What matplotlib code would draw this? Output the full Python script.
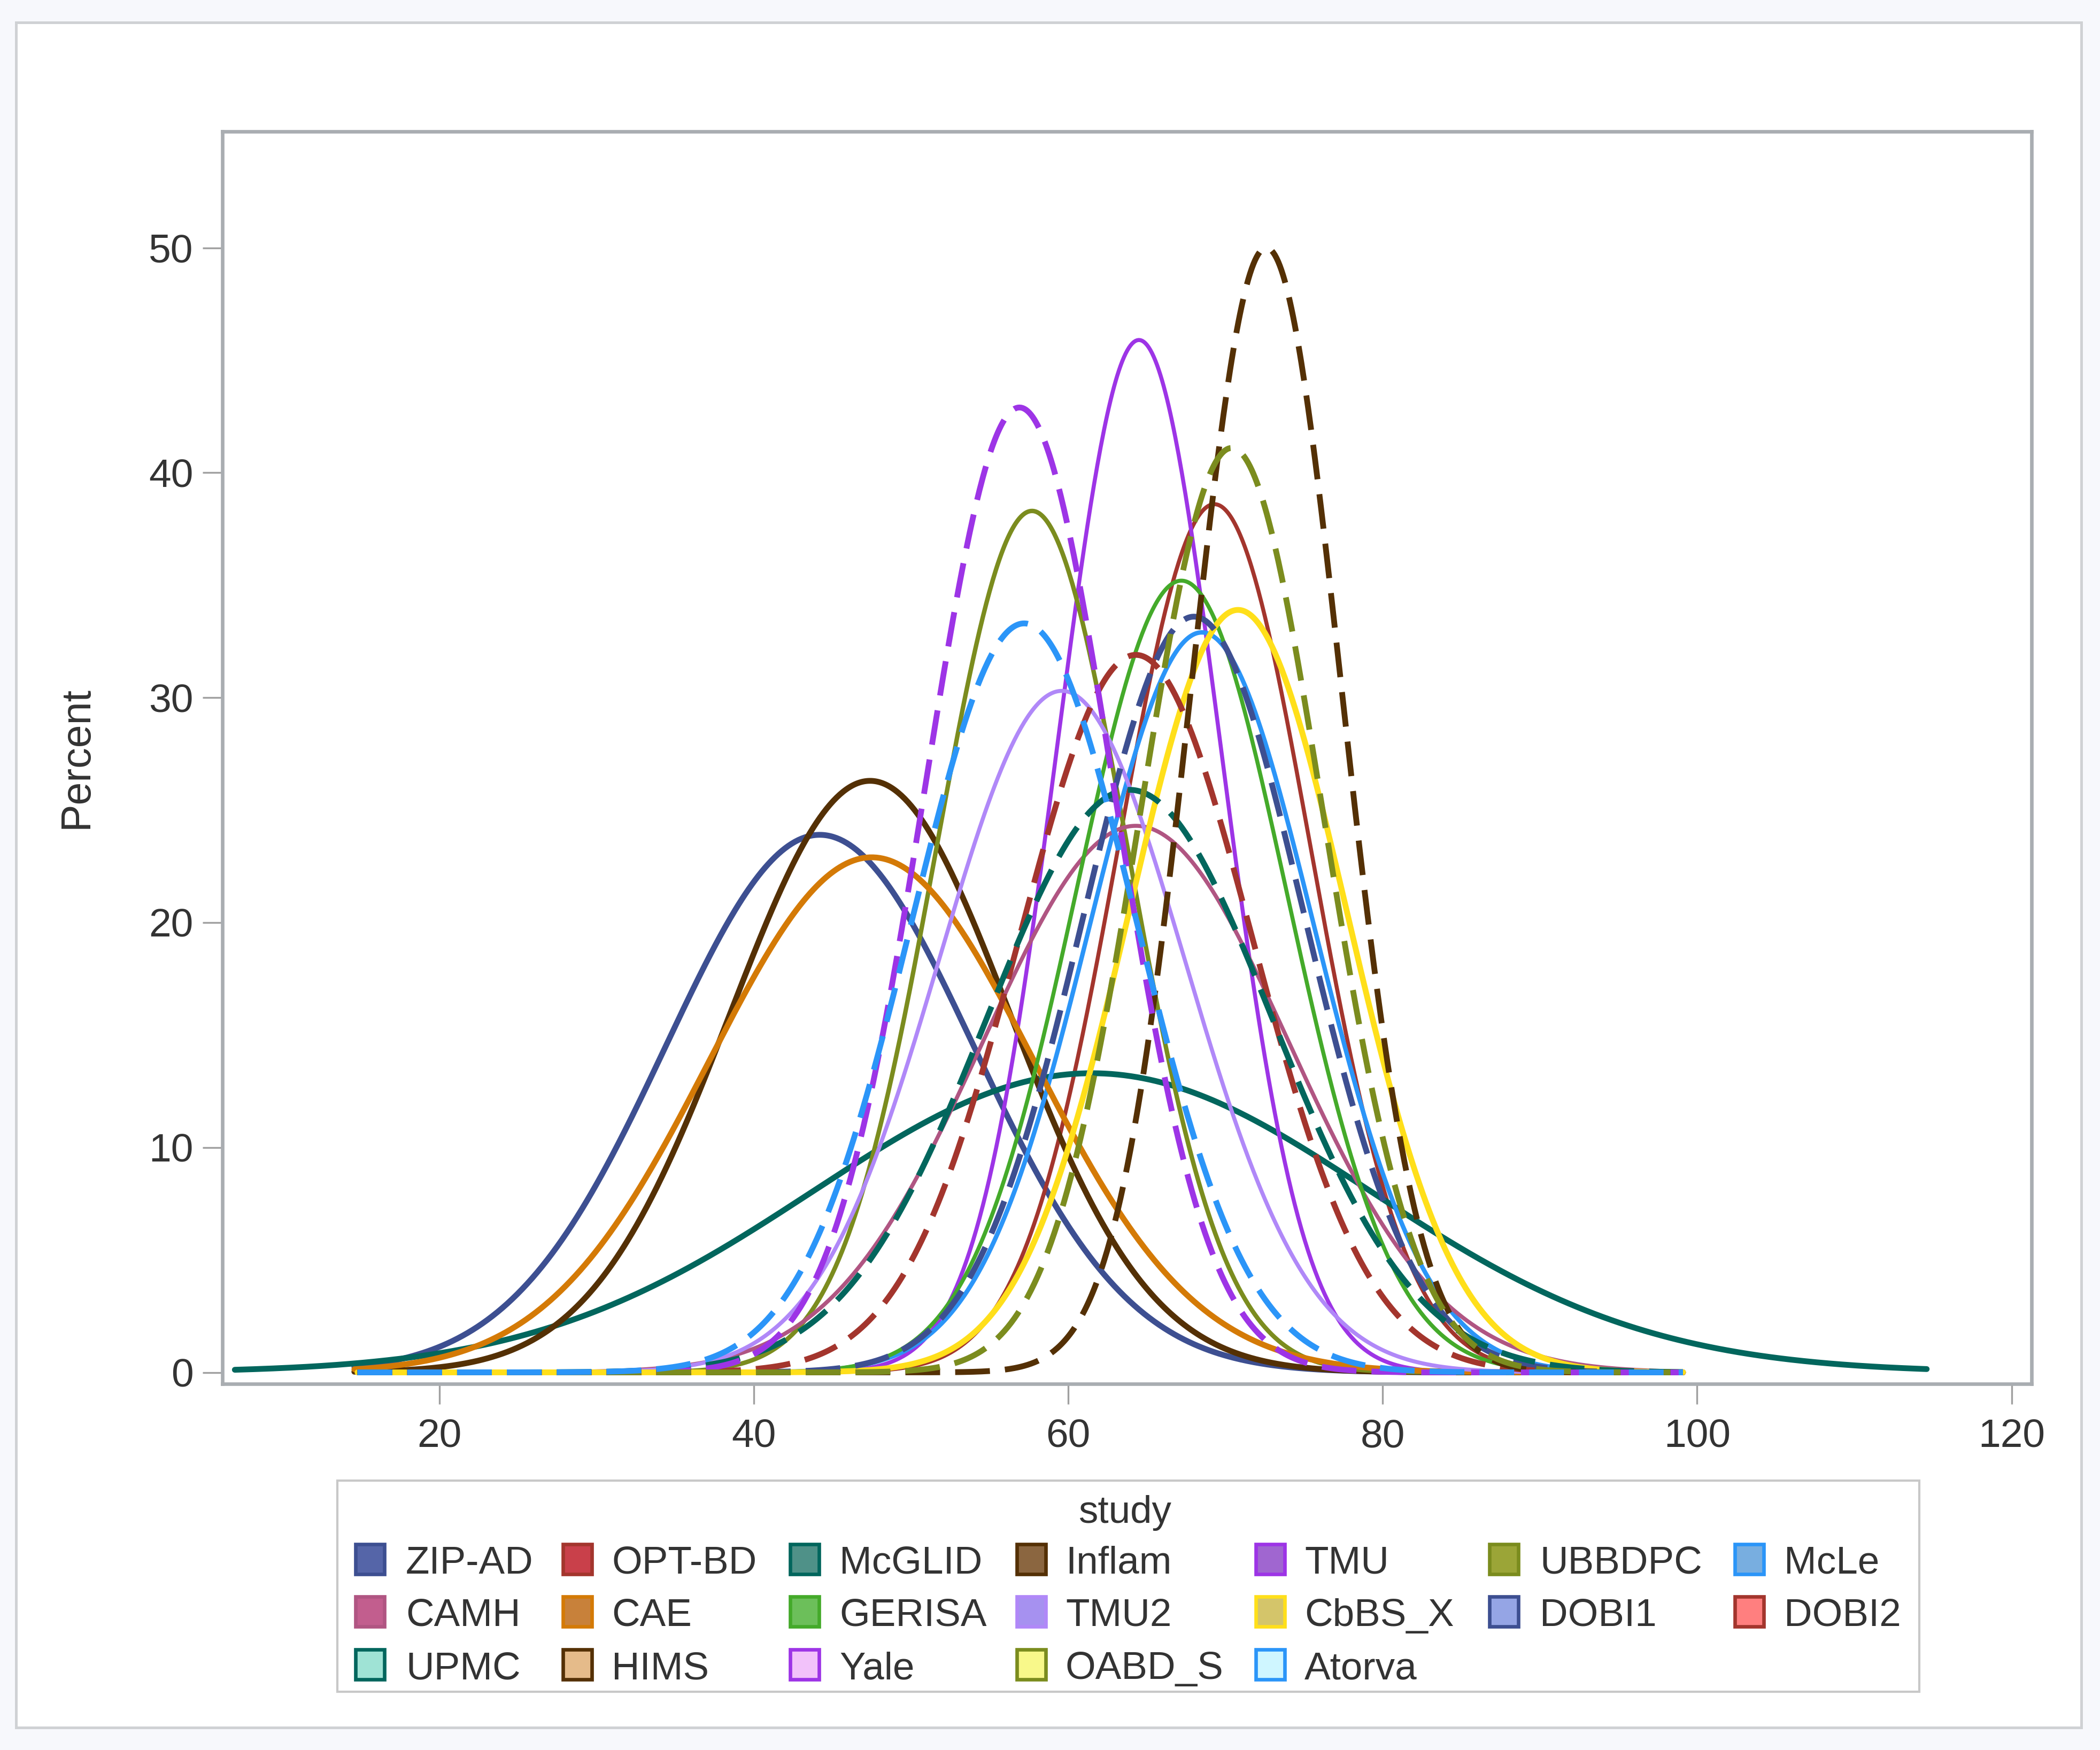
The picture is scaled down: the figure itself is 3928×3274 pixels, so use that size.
import numpy as np
import matplotlib
matplotlib.use('Agg')
import matplotlib.pyplot as plt
from matplotlib.patches import Rectangle

plt.rcParams['font.family'] = ['Liberation Sans', 'DejaVu Sans']

#______________________________________________________________
"""Data: one fitted normal curve per study (read off the picture)"""

studies = ['ZIP-AD', 'OPT-BD', 'McGLID', 'Inflam', 'TMU', 'UBBDPC', 'McLe',
           'CAMH', 'CAE', 'GERISA', 'TMU2', 'CbBS_X', 'DOBI1', 'DOBI2',
           'UPMC', 'HIMS', 'Yale', 'OABD_S', 'Atorva']
means = [44.2, 69.3, 61.5, 47.4, 64.5, 57.7, 68.5,
         64.3, 47.5, 67.2, 59.6, 70.8, 68.0, 64.3,
         63.9, 72.6, 56.9, 70.4, 57.2]
sds = [9.8, 6.1, 17.7, 8.9, 5.2, 6.1, 7.1,
       9.7, 10.3, 6.7, 7.8, 6.9, 7.0, 7.4,
       9.1, 4.8, 6.0, 5.8, 7.1]
peaks = [23.9, 38.6, 13.3, 26.3, 45.9, 38.3, 32.9,
         24.3, 22.9, 35.2, 30.3, 33.9, 33.6, 31.9,
         25.9, 50.0, 42.9, 41.1, 33.3]
x_from = [14.6, 14.8, 7.0, 14.6, 14.8, 14.8, 14.8,
          14.8, 14.6, 14.8, 14.8, 14.8, 14.8, 14.8,
          14.8, 14.8, 14.8, 14.8, 14.8]
x_to = [99.1, 99.1, 114.6, 99.1, 99.1, 99.1, 99.1,
        99.1, 99.1, 99.1, 99.1, 99.1, 99.1, 99.1,
        99.1, 99.1, 99.1, 99.1, 99.1]

xticks = [20, 40, 60, 80, 100, 120]
yticks = [0, 10, 20, 30, 40, 50]

# SAS HTMLBlue style: line (contrast) colours and legend fills
line_colors = ['#3d4f91', '#a3352d', '#02665d', '#543005', '#9d34e6', '#7b8c1e', '#2b95f8',
               '#b05582', '#d47a06', '#44aa2a', '#b088f8', '#ffdf1a', '#3d4f91', '#a3352d',
               '#02665d', '#543005', '#9d34e6', '#7b8c1e', '#2b95f8']
fill_colors = ['#5565a8', '#c9404a', '#4f9188', '#8b6640', '#a066d0', '#9ba537', '#78aee0',
               '#c25e8e', '#c8813a', '#6cbf5a', '#a691f0', '#d4c56a', '#95a5e5', '#ff7f7f',
               '#9fe3d5', '#e5bb8a', '#f2c2fa', '#f8f88a', '#cff6ff']
dashed = [False] * 12 + [True] * 7
widths = [2.6, 1.8, 2.6, 2.6, 1.8, 2.0, 2.0,
          1.8, 2.6, 1.8, 1.8, 2.6, 2.6, 2.6,
          2.6, 2.6, 2.6, 2.6, 2.6]

#______________________________________________________________
"""Figure"""

W, H = 3928, 3274
fig = plt.figure(figsize=(W / 300, H / 300), dpi=300, facecolor='#f7f8fc')


def fx(px):
    return px / W


def fy(py):
    return 1 - py / H


# white panel behind everything
fig.patches.append(Rectangle((fx(30), fy(3232)), fx(3893 - 30), (3232 - 42) / H,
                             transform=fig.transFigure, facecolor='white',
                             edgecolor='#cfd1d4', lw=1.2, zorder=-10))

ax = fig.add_axes([fx(416), fy(2589), fx(3800 - 416), (2589 - 246) / H])
ax.set_zorder(5)

for i in range(len(studies)):
    x = np.linspace(x_from[i], x_to[i], 800)
    y = peaks[i] * np.exp(-0.5 * ((x - means[i]) / sds[i]) ** 2)
    ls = (0, (6, 2.6)) if dashed[i] else '-'
    ax.plot(x, y, color=line_colors[i], lw=widths[i], ls=ls,
            dash_capstyle='butt', solid_capstyle='round')

ax.set_xlim(6.21, 121.27)
ax.set_ylim(-0.51, 55.17)
ax.set_xticks(xticks)
ax.set_yticks(yticks)
ax.tick_params(length=9, width=0.8, color='#a0a0a0', labelsize=18,
               labelcolor='#333333', pad=4)
ax.tick_params(axis='x', pad=6.5)
for s in ax.spines.values():
    s.set_color('#a9adb1')
    s.set_linewidth(1.6)

fig.text(fx(143), fy(1417), 'Percent', rotation=90, ha='center', va='center',
         fontsize=18.5, color='#333333')

#______________________________________________________________
"""Legend (drawn by hand to match the SAS layout)"""

fig.patches.append(Rectangle((fx(631), fy(3165)), fx(3590 - 631), (3165 - 2770) / H,
                             transform=fig.transFigure, facecolor='white',
                             edgecolor='#c8c8c8', lw=1.0, zorder=1))
fig.text(fx(2104), fy(2849), 'study', ha='center', va='baseline',
         fontsize=17.5, color='#333333')

col_x = [692, 1080, 1505, 1929, 2376, 2813, 3272]
text_x = [759, 1144, 1570, 1993, 2440, 2880, 3337]
row_y = [2917, 3015, 3114]
sw, sh = 54, 56

for i, name in enumerate(studies):
    r, c = divmod(i, 7)
    cx, cy = col_x[c], row_y[r]
    fig.patches.append(Rectangle((fx(cx - sw / 2), fy(cy + sh / 2)), sw / W, sh / H,
                                 transform=fig.transFigure, facecolor=fill_colors[i],
                                 edgecolor=line_colors[i], lw=1.6, zorder=2))
    fig.text(fx(text_x[c]), fy(cy + 27), name, ha='left', va='baseline',
             fontsize=17.5, color='#333333')

fig.savefig('out.png', dpi=300, facecolor=fig.get_facecolor())
